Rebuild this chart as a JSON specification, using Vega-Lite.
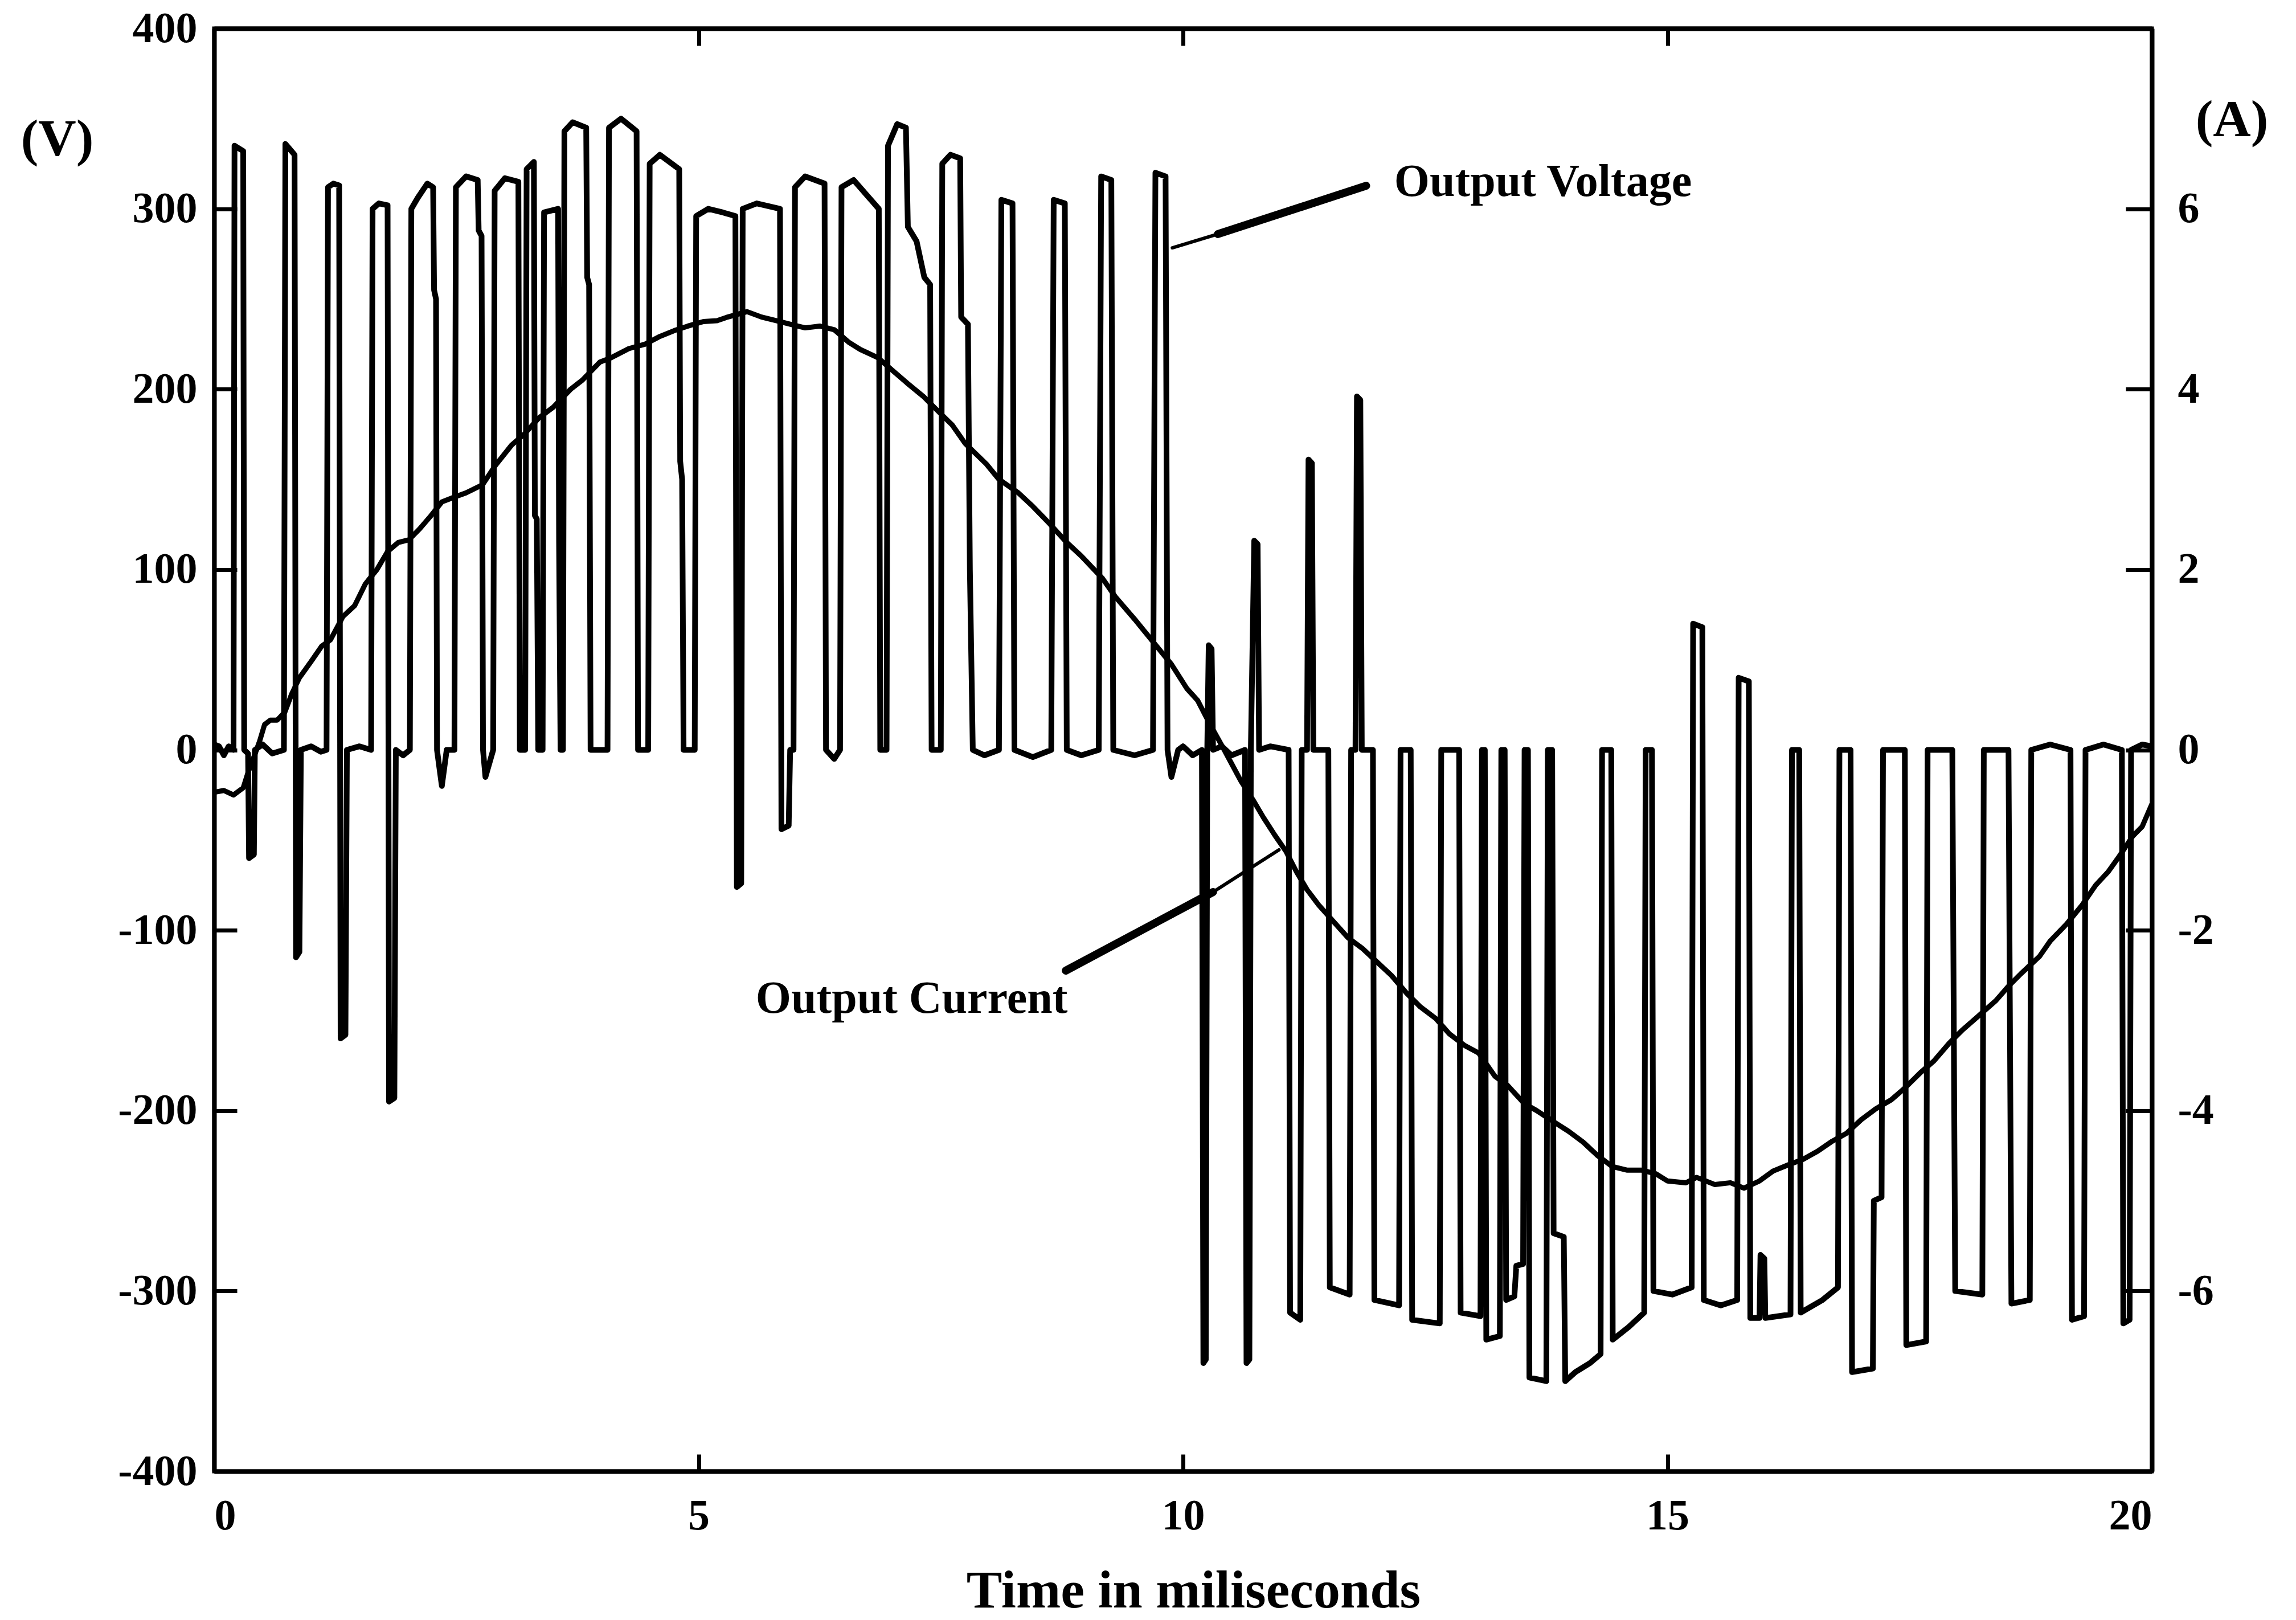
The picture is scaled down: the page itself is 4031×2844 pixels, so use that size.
{
  "$schema": "https://vega.github.io/schema/vega-lite/v6.json",
  "width": 3402,
  "height": 2533,
  "autosize": {"type": "none"},
  "padding": {"left": 376, "top": 50, "right": 253, "bottom": 261},
  "background": "white",
  "config": {"view": {"stroke": "black", "strokeWidth": 7}, "font": "Liberation Serif"},
  "datasets": {
    "volt": [
      {"t":0.00,"v":3},{"t":0.05,"v":2},{"t":0.10,"v":-3},{"t":0.15,"v":2},{"t":0.20,"v":0},
      {"t":0.21,"v":335},{"t":0.30,"v":332},{"t":0.31,"v":0},{"t":0.35,"v":-2},{"t":0.36,"v":-60},{"t":0.41,"v":-58},{"t":0.42,"v":0},
      {"t":0.50,"v":3},{"t":0.60,"v":-2},{"t":0.72,"v":0},{"t":0.735,"v":336},{"t":0.83,"v":330},{"t":0.845,"v":-115},{"t":0.88,"v":-112},{"t":0.895,"v":0},
      {"t":1.00,"v":2},{"t":1.10,"v":-1},{"t":1.16,"v":0},{"t":1.175,"v":312},{"t":1.23,"v":314},{"t":1.29,"v":313},{"t":1.305,"v":-160},{"t":1.355,"v":-158},{"t":1.37,"v":0},
      {"t":1.50,"v":2},{"t":1.62,"v":0},{"t":1.635,"v":300},{"t":1.70,"v":303},{"t":1.79,"v":302},{"t":1.805,"v":-195},{"t":1.86,"v":-193},{"t":1.875,"v":0},
      {"t":1.95,"v":-3},{"t":2.02,"v":0},{"t":2.035,"v":300},{"t":2.10,"v":306},{"t":2.20,"v":314},{"t":2.26,"v":312},{"t":2.27,"v":255},{"t":2.29,"v":250},{"t":2.30,"v":0},
      {"t":2.35,"v":-20},{"t":2.40,"v":0},{"t":2.48,"v":0},{"t":2.495,"v":312},{"t":2.60,"v":318},{"t":2.72,"v":316},{"t":2.73,"v":288},{"t":2.76,"v":285},{"t":2.775,"v":0},
      {"t":2.80,"v":-15},{"t":2.88,"v":0},{"t":2.895,"v":310},{"t":3.00,"v":317},{"t":3.14,"v":315},{"t":3.155,"v":0},
      {"t":3.21,"v":0},{"t":3.225,"v":322},{"t":3.30,"v":326},{"t":3.31,"v":130},{"t":3.33,"v":128},{"t":3.345,"v":0},
      {"t":3.39,"v":0},{"t":3.405,"v":298},{"t":3.55,"v":300},{"t":3.56,"v":115},{"t":3.575,"v":0},
      {"t":3.60,"v":0},{"t":3.615,"v":343},{"t":3.70,"v":348},{"t":3.84,"v":345},{"t":3.85,"v":262},{"t":3.87,"v":258},{"t":3.885,"v":0},
      {"t":4.06,"v":0},{"t":4.075,"v":345},{"t":4.20,"v":350},{"t":4.36,"v":343},{"t":4.375,"v":0},
      {"t":4.48,"v":0},{"t":4.495,"v":325},{"t":4.60,"v":330},{"t":4.80,"v":322},{"t":4.81,"v":160},{"t":4.83,"v":150},{"t":4.845,"v":0},
      {"t":4.96,"v":0},{"t":4.975,"v":296},{"t":5.10,"v":300},{"t":5.25,"v":298},{"t":5.38,"v":296},{"t":5.395,"v":-76},{"t":5.44,"v":-74},
      {"t":5.455,"v":300},{"t":5.60,"v":303},{"t":5.84,"v":300},{"t":5.855,"v":-44},{"t":5.93,"v":-42},{"t":5.945,"v":0},
      {"t":5.98,"v":0},{"t":5.995,"v":312},{"t":6.10,"v":318},{"t":6.30,"v":314},{"t":6.315,"v":0},{"t":6.40,"v":-5},{"t":6.46,"v":0},
      {"t":6.475,"v":312},{"t":6.60,"v":316},{"t":6.86,"v":300},{"t":6.875,"v":0},
      {"t":6.94,"v":0},{"t":6.955,"v":335},{"t":7.05,"v":347},{"t":7.14,"v":345},{"t":7.16,"v":290},{"t":7.25,"v":282},{"t":7.33,"v":262},{"t":7.39,"v":258},{"t":7.405,"v":0},
      {"t":7.50,"v":0},{"t":7.515,"v":325},{"t":7.60,"v":330},{"t":7.70,"v":328},{"t":7.71,"v":240},{"t":7.78,"v":236},{"t":7.80,"v":100},{"t":7.83,"v":0},
      {"t":7.95,"v":-3},{"t":8.10,"v":0},{"t":8.125,"v":305},{"t":8.24,"v":303},{"t":8.26,"v":0},
      {"t":8.45,"v":-4},{"t":8.64,"v":0},{"t":8.665,"v":305},{"t":8.78,"v":303},{"t":8.80,"v":0},
      {"t":8.95,"v":-3},{"t":9.13,"v":0},{"t":9.155,"v":318},{"t":9.26,"v":316},{"t":9.28,"v":0},
      {"t":9.50,"v":-3},{"t":9.69,"v":0},{"t":9.715,"v":320},{"t":9.82,"v":318},{"t":9.84,"v":0},
      {"t":9.88,"v":-15},{"t":9.95,"v":0},{"t":10.00,"v":2},{"t":10.10,"v":-3},{"t":10.195,"v":0},
      {"t":10.21,"v":-340},{"t":10.235,"v":-338},{"t":10.25,"v":0},{"t":10.265,"v":58},{"t":10.295,"v":56},{"t":10.31,"v":0},
      {"t":10.40,"v":2},{"t":10.50,"v":-3},{"t":10.64,"v":0},{"t":10.655,"v":-340},{"t":10.685,"v":-338},{"t":10.70,"v":0},
      {"t":10.735,"v":116},{"t":10.77,"v":114},{"t":10.785,"v":0},{"t":10.90,"v":2},
      {"t":11.09,"v":0},{"t":11.105,"v":-312},{"t":11.21,"v":-316},{"t":11.225,"v":0},{"t":11.28,"v":0},{"t":11.295,"v":161},{"t":11.33,"v":159},{"t":11.345,"v":0},
      {"t":11.50,"v":0},{"t":11.515,"v":-298},{"t":11.72,"v":-302},{"t":11.735,"v":0},{"t":11.78,"v":0},{"t":11.795,"v":196},{"t":11.83,"v":194},{"t":11.845,"v":0},
      {"t":11.96,"v":0},{"t":11.975,"v":-305},{"t":12.23,"v":-308},{"t":12.245,"v":0},
      {"t":12.35,"v":0},{"t":12.365,"v":-316},{"t":12.65,"v":-318},{"t":12.665,"v":0},
      {"t":12.85,"v":0},{"t":12.865,"v":-312},{"t":13.07,"v":-314},{"t":13.085,"v":0},
      {"t":13.115,"v":0},{"t":13.13,"v":-327},{"t":13.27,"v":-325},{"t":13.285,"v":0},
      {"t":13.32,"v":0},{"t":13.335,"v":-305},{"t":13.42,"v":-303},{"t":13.44,"v":-286},{"t":13.51,"v":-285},{"t":13.525,"v":0},
      {"t":13.56,"v":0},{"t":13.575,"v":-348},{"t":13.75,"v":-350},{"t":13.765,"v":0},
      {"t":13.81,"v":0},{"t":13.825,"v":-268},{"t":13.93,"v":-270},{"t":13.945,"v":-350},{"t":14.05,"v":-345},{"t":14.20,"v":-340},{"t":14.31,"v":-335},{"t":14.325,"v":0},
      {"t":14.42,"v":0},{"t":14.435,"v":-327},{"t":14.60,"v":-320},{"t":14.76,"v":-312},{"t":14.775,"v":0},
      {"t":14.84,"v":0},{"t":14.855,"v":-300},{"t":15.05,"v":-302},{"t":15.25,"v":-298},{"t":15.265,"v":70},{"t":15.36,"v":68},
      {"t":15.375,"v":-305},{"t":15.55,"v":-308},{"t":15.72,"v":-305},{"t":15.735,"v":40},{"t":15.84,"v":38},
      {"t":15.855,"v":-315},{"t":15.95,"v":-315},{"t":15.96,"v":-280},{"t":16.00,"v":-282},{"t":16.01,"v":-315},{"t":16.27,"v":-313},{"t":16.285,"v":0},
      {"t":16.36,"v":0},{"t":16.375,"v":-312},{"t":16.60,"v":-305},{"t":16.76,"v":-298},{"t":16.775,"v":0},
      {"t":16.89,"v":0},{"t":16.905,"v":-345},{"t":17.12,"v":-343},{"t":17.13,"v":-250},{"t":17.21,"v":-248},{"t":17.225,"v":0},
      {"t":17.45,"v":0},{"t":17.465,"v":-330},{"t":17.67,"v":-328},{"t":17.685,"v":0},
      {"t":17.94,"v":0},{"t":17.97,"v":-300},{"t":18.25,"v":-302},{"t":18.265,"v":0},
      {"t":18.52,"v":0},{"t":18.55,"v":-307},{"t":18.74,"v":-305},{"t":18.755,"v":0},
      {"t":18.95,"v":3},{"t":19.16,"v":0},{"t":19.175,"v":-316},{"t":19.30,"v":-314},{"t":19.315,"v":0},
      {"t":19.50,"v":3},{"t":19.69,"v":0},{"t":19.705,"v":-318},{"t":19.77,"v":-316},{"t":19.785,"v":0},
      {"t":19.90,"v":3},{"t":20.00,"v":2}
    ],
    "curr": [
      {"t":0.00,"a":-0.47},{"t":0.10,"a":-0.45},{"t":0.20,"a":-0.50},{"t":0.30,"a":-0.42},{"t":0.35,"a":-0.25},{"t":0.42,"a":-0.05},{"t":0.47,"a":0.10},
      {"t":0.52,"a":0.28},{"t":0.58,"a":0.33},{"t":0.65,"a":0.33},{"t":0.73,"a":0.42},{"t":0.80,"a":0.62},{"t":0.88,"a":0.80},{"t":1.00,"a":0.98},
      {"t":1.11,"a":1.15},{"t":1.20,"a":1.22},{"t":1.33,"a":1.48},{"t":1.45,"a":1.60},{"t":1.56,"a":1.84},{"t":1.68,"a":2.00},{"t":1.79,"a":2.20},
      {"t":1.90,"a":2.30},{"t":2.01,"a":2.33},{"t":2.12,"a":2.45},{"t":2.24,"a":2.60},{"t":2.35,"a":2.75},{"t":2.47,"a":2.80},{"t":2.60,"a":2.85},
      {"t":2.77,"a":2.94},{"t":2.90,"a":3.15},{"t":3.07,"a":3.38},{"t":3.20,"a":3.50},{"t":3.35,"a":3.68},{"t":3.50,"a":3.80},{"t":3.68,"a":4.00},
      {"t":3.80,"a":4.10},{"t":3.98,"a":4.30},{"t":4.10,"a":4.35},{"t":4.28,"a":4.45},{"t":4.45,"a":4.50},{"t":4.59,"a":4.58},{"t":4.75,"a":4.65},
      {"t":4.89,"a":4.70},{"t":5.05,"a":4.75},{"t":5.19,"a":4.76},{"t":5.30,"a":4.80},{"t":5.50,"a":4.86},{"t":5.65,"a":4.80},{"t":5.80,"a":4.76},
      {"t":5.95,"a":4.72},{"t":6.10,"a":4.68},{"t":6.25,"a":4.70},{"t":6.40,"a":4.66},{"t":6.55,"a":4.52},{"t":6.67,"a":4.44},{"t":6.85,"a":4.35},
      {"t":7.01,"a":4.20},{"t":7.15,"a":4.07},{"t":7.32,"a":3.92},{"t":7.45,"a":3.78},{"t":7.62,"a":3.60},{"t":7.75,"a":3.40},{"t":7.97,"a":3.17},
      {"t":8.10,"a":3.00},{"t":8.30,"a":2.85},{"t":8.45,"a":2.70},{"t":8.63,"a":2.50},{"t":8.80,"a":2.30},{"t":8.95,"a":2.15},{"t":9.17,"a":1.90},
      {"t":9.30,"a":1.70},{"t":9.50,"a":1.45},{"t":9.72,"a":1.16},{"t":9.88,"a":0.95},{"t":10.04,"a":0.68},{"t":10.15,"a":0.55},{"t":10.27,"a":0.30},
      {"t":10.40,"a":0.05},{"t":10.50,"a":-0.15},{"t":10.60,"a":-0.35},{"t":10.72,"a":-0.55},{"t":10.83,"a":-0.75},{"t":10.95,"a":-0.95},
      {"t":11.06,"a":-1.12},{"t":11.17,"a":-1.35},{"t":11.28,"a":-1.55},{"t":11.40,"a":-1.72},{"t":11.55,"a":-1.90},{"t":11.70,"a":-2.08},
      {"t":11.85,"a":-2.20},{"t":12.01,"a":-2.36},{"t":12.15,"a":-2.50},{"t":12.31,"a":-2.70},{"t":12.45,"a":-2.85},{"t":12.61,"a":-2.98},
      {"t":12.75,"a":-3.15},{"t":12.91,"a":-3.28},{"t":13.05,"a":-3.36},{"t":13.22,"a":-3.62},{"t":13.35,"a":-3.72},{"t":13.52,"a":-3.92},
      {"t":13.65,"a":-4.00},{"t":13.82,"a":-4.12},{"t":13.98,"a":-4.23},{"t":14.13,"a":-4.35},{"t":14.28,"a":-4.50},{"t":14.43,"a":-4.62},
      {"t":14.58,"a":-4.66},{"t":14.73,"a":-4.66},{"t":14.88,"a":-4.70},{"t":15.00,"a":-4.78},{"t":15.19,"a":-4.80},{"t":15.30,"a":-4.74},
      {"t":15.49,"a":-4.82},{"t":15.65,"a":-4.80},{"t":15.79,"a":-4.86},{"t":15.95,"a":-4.78},{"t":16.09,"a":-4.67},{"t":16.25,"a":-4.60},
      {"t":16.40,"a":-4.54},{"t":16.55,"a":-4.45},{"t":16.70,"a":-4.34},{"t":16.85,"a":-4.25},{"t":17.00,"a":-4.10},{"t":17.15,"a":-3.98},
      {"t":17.31,"a":-3.88},{"t":17.45,"a":-3.75},{"t":17.61,"a":-3.58},{"t":17.75,"a":-3.45},{"t":17.91,"a":-3.25},{"t":18.05,"a":-3.10},
      {"t":18.21,"a":-2.95},{"t":18.39,"a":-2.78},{"t":18.52,"a":-2.62},{"t":18.65,"a":-2.48},{"t":18.84,"a":-2.29},{"t":18.95,"a":-2.12},
      {"t":19.12,"a":-1.93},{"t":19.28,"a":-1.72},{"t":19.42,"a":-1.50},{"t":19.55,"a":-1.35},{"t":19.65,"a":-1.20},{"t":19.80,"a":-0.96},
      {"t":19.90,"a":-0.85},{"t":20.00,"a":-0.60}
    ],
    "vshaft": [{"t":11.89,"v":312.8},{"t":10.36,"v":286}],
    "vtip": [{"t":10.36,"v":286},{"t":9.89,"v":278.4}],
    "cshaft": [{"t":8.79,"v":-122.4},{"t":10.31,"v":-78.8}],
    "ctip": [{"t":10.31,"v":-78.8},{"t":10.99,"v":-55.4}],
    "notes": [
      {"t":12.18,"v":307,"label":"Output Voltage"},
      {"t":5.59,"v":-145.8,"label":"Output Current"}
    ]
  },
  "layer": [
    {
      "data": {"name": "volt"},
      "mark": {"type": "line", "color": "black", "strokeWidth": 10, "strokeJoin": "round"},
      "encoding": {
        "x": {
          "field": "t", "type": "quantitative",
          "scale": {"domain": [0, 20], "nice": false},
          "axis": {
            "orient": "bottom", "values": [0, 5, 10, 15, 20], "grid": false,
            "tickSize": -30, "tickWidth": 7, "tickColor": "black",
            "domainColor": "black", "domainWidth": 8,
            "labelFont": "Liberation Serif", "labelFontWeight": "bold", "labelFontSize": 76,
            "labelColor": "black", "labelPadding": 71, "labelFlush": true, "labelOverlap": false,
            "title": "Time in miliseconds", "titleFont": "Liberation Serif", "titleFontWeight": "bold",
            "titleFontSize": 94, "titleColor": "black", "titleX": 1719, "titleY": 238,
            "titleAlign": "center", "titleBaseline": "alphabetic"
          }
        },
        "y": {
          "field": "v", "type": "quantitative",
          "scale": {"domain": [-400, 400], "nice": false},
          "axis": {
            "orient": "left", "values": [-400, -300, -200, -100, 0, 100, 200, 300, 400], "grid": false,
            "tickSize": -40, "tickWidth": 7, "tickColor": "black",
            "domainColor": "black", "domainWidth": 8,
            "labelFont": "Liberation Serif", "labelFontWeight": "bold", "labelFontSize": 76,
            "labelColor": "black", "labelPadding": 70, "labelOverlap": false, "labelFlush": false,
            "labelExpr": "datum.value < 0 ? '-' + abs(datum.value) : '' + datum.value",
            "title": "(V)", "titleFont": "Liberation Serif", "titleFontWeight": "bold",
            "titleFontSize": 92, "titleColor": "black", "titleAngle": 0,
            "titleX": -276, "titleY": 194, "titleAlign": "center", "titleBaseline": "middle"
          }
        }
      }
    },
    {
      "data": {"name": "curr"},
      "mark": {"type": "line", "color": "black", "strokeWidth": 9, "strokeJoin": "round"},
      "encoding": {
        "x": {
          "field": "t", "type": "quantitative",
          "axis": {
            "orient": "top", "values": [5, 10, 15], "grid": false, "labels": false,
            "tickSize": -30, "tickWidth": 7, "tickColor": "black",
            "domainColor": "black", "domainWidth": 8, "title": null
          }
        },
        "y": {
          "field": "a", "type": "quantitative",
          "scale": {"domain": [-8, 8], "nice": false},
          "axis": {
            "orient": "right", "values": [-6, -4, -2, 0, 2, 4, 6], "grid": false,
            "tickSize": -46, "tickWidth": 7, "tickColor": "black",
            "domainColor": "black", "domainWidth": 8,
            "labelFont": "Liberation Serif", "labelFontWeight": "bold", "labelFontSize": 76,
            "labelColor": "black", "labelPadding": 91, "labelOverlap": false, "labelFlush": false,
            "labelExpr": "datum.value < 0 ? '-' + abs(datum.value) : '' + datum.value",
            "title": "(A)", "titleFont": "Liberation Serif", "titleFontWeight": "bold",
            "titleFontSize": 92, "titleColor": "black", "titleAngle": 0,
            "titleX": 140, "titleY": 160, "titleAlign": "center", "titleBaseline": "middle"
          }
        }
      }
    },
    {
      "data": {"name": "vshaft"},
      "mark": {"type": "line", "color": "black", "strokeWidth": 14, "strokeCap": "round"},
      "encoding": {
        "x": {"field": "t", "type": "quantitative", "axis": null},
        "y": {"field": "v", "type": "quantitative", "scale": {"domain": [-400, 400], "nice": false}, "axis": null}
      }
    },
    {
      "data": {"name": "vtip"},
      "mark": {"type": "line", "color": "black", "strokeWidth": 6, "strokeCap": "round"},
      "encoding": {
        "x": {"field": "t", "type": "quantitative", "axis": null},
        "y": {"field": "v", "type": "quantitative", "scale": {"domain": [-400, 400], "nice": false}, "axis": null}
      }
    },
    {
      "data": {"name": "cshaft"},
      "mark": {"type": "line", "color": "black", "strokeWidth": 14, "strokeCap": "round"},
      "encoding": {
        "x": {"field": "t", "type": "quantitative", "axis": null},
        "y": {"field": "v", "type": "quantitative", "scale": {"domain": [-400, 400], "nice": false}, "axis": null}
      }
    },
    {
      "data": {"name": "ctip"},
      "mark": {"type": "line", "color": "black", "strokeWidth": 6, "strokeCap": "round"},
      "encoding": {
        "x": {"field": "t", "type": "quantitative", "axis": null},
        "y": {"field": "v", "type": "quantitative", "scale": {"domain": [-400, 400], "nice": false}, "axis": null}
      }
    },
    {
      "data": {"name": "notes"},
      "mark": {"type": "text", "color": "black", "font": "Liberation Serif", "fontWeight": "bold", "fontSize": 80, "align": "left", "baseline": "alphabetic"},
      "encoding": {
        "x": {"field": "t", "type": "quantitative", "axis": null},
        "y": {"field": "v", "type": "quantitative", "scale": {"domain": [-400, 400], "nice": false}, "axis": null},
        "text": {"field": "label"}
      }
    }
  ],
  "resolve": {"scale": {"y": "independent"}, "axis": {"x": "independent"}}
}
